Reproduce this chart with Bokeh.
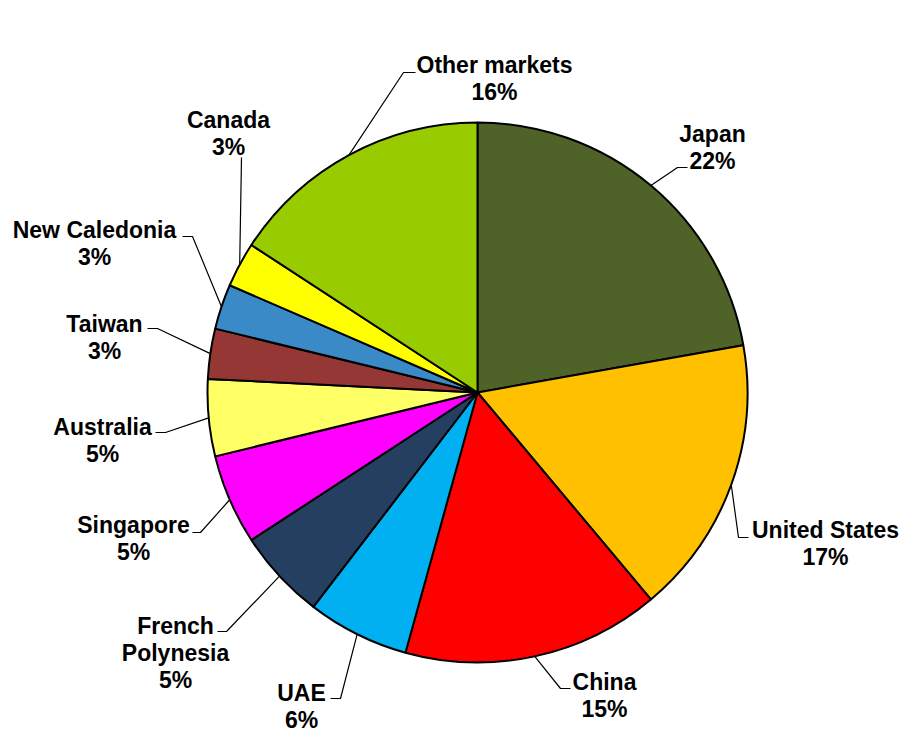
import math
from bokeh.plotting import figure
from bokeh.models import Range1d
from bokeh.core.properties import value
from bokeh.embed import file_html
from bokeh.resources import INLINE

# ---- data ----
markets = ["Japan", "United States", "China", "UAE", "French Polynesia", "Singapore",
           "Australia", "Taiwan", "New Caledonia", "Canada", "Other markets"]
shares = [22.2, 16.7, 15.4, 6.1, 5.4, 5.4, 4.6, 3.0, 2.7, 2.7, 15.8]
label_lines = [["Japan"], ["United States"], ["China"], ["UAE"], ["French", "Polynesia"],
               ["Singapore"], ["Australia"], ["Taiwan"], ["New Caledonia"], ["Canada"],
               ["Other markets"]]
colors = ["#4F6228", "#FFC000", "#FF0000", "#00B0F0", "#243F60", "#FF00FF",
          "#FFFF66", "#953735", "#3A8AC8", "#FFFF00", "#99CC00"]

# ---- layout (page pixel coords: label centre x, first line y, elbow x, elbow y, end x) ----
label_pos = [(712, 133), (825, 529), (604, 681), (301, 692), (175, 625), (133, 524),
             (102, 426), (104, 323), (94, 229), (228, 119), (494, 64)]
elbows = [(677, 167, 687), (738, 537, 748), (560, 688, 570), (340, 698, 330),
          (226, 631, 217), (200, 532, 192), (165, 432, 155), (157, 328, 147),
          (192, 236, 182), (241, 157, 241), (403, 72, 415)]

W, H = 901, 733
CX, CY, R = 477, 392, 270
LINE_H = 27


def dx(px):
    return px


def dy(py):
    return H - py


p = figure(width=W, height=H, output_backend="svg", toolbar_location=None,
           x_range=Range1d(0, W), y_range=Range1d(0, H), min_border=0)
p.axis.visible = False
p.grid.visible = False
p.outline_line_color = None
p.background_fill_color = "white"
p.border_fill_color = "white"

total = sum(shares)
starts, ends = [], []
cum = 0.0
for s in shares:
    starts.append(math.pi / 2 - 2 * math.pi * cum / total)
    cum += s
    ends.append(math.pi / 2 - 2 * math.pi * cum / total)

p.wedge(x=[dx(CX)] * len(shares), y=[dy(CY)] * len(shares), radius=R,
        start_angle=starts, end_angle=ends, direction="clock",
        fill_color=colors, line_color="black", line_width=2)

# leader lines
xs_l, ys_l = [], []
for i, s in enumerate(shares):
    mid = (starts[i] + ends[i]) / 2
    sx = dx(CX) + R * math.cos(mid)
    sy = dy(CY) + R * math.sin(mid)
    ex, ey, hx = elbows[i]
    xs_l.append([sx, dx(ex), dx(hx)])
    ys_l.append([sy, dy(ey), dy(ey)])
p.multi_line(xs=xs_l, ys=ys_l, line_color="black", line_width=1.2)

# labels
tx, ty, tt = [], [], []
for i, s in enumerate(shares):
    lx, ly = label_pos[i]
    lines = label_lines[i] + ["%d%%" % round(s)]
    for k, t in enumerate(lines):
        tx.append(dx(lx))
        ty.append(dy(ly + k * LINE_H))
        tt.append(t)
p.text(x=tx, y=ty, text=tt, text_font=value("Liberation Sans"), text_font_style="bold",
       text_font_size="23px", text_align="center", text_baseline="middle",
       text_color="black")

open("out.html", "w").write(file_html(p, INLINE))
